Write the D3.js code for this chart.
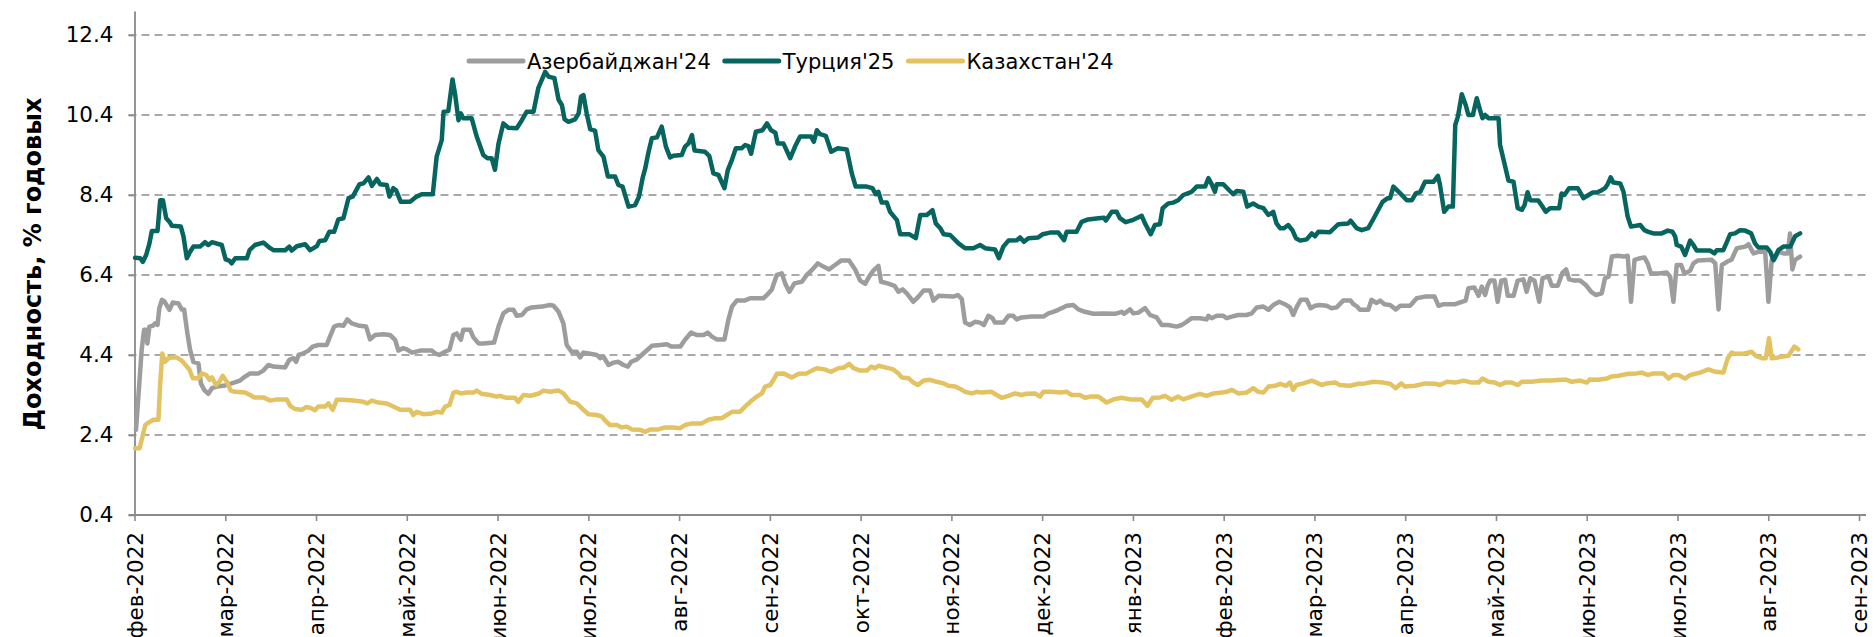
<!DOCTYPE html>
<html>
<head>
<meta charset="utf-8">
<script src="https://cdn.jsdelivr.net/npm/d3@7"></script>
<style>
  body { margin: 0; background: #fff; }
  text { font-family: "DejaVu Sans", Verdana, sans-serif; fill: #000; }
</style>
</head>
<body>
<div id="chart"></div>
<script>
// Доходность еврооблигаций, % годовых.
// Точки серий: [дней от 1 фев 2022, доходность]
const startDate = Date.UTC(2022, 1, 1);
const lastTickDate = Date.UTC(2023, 8, 1);
const endDate = Date.UTC(2023, 8, 3);
const xTickLabels = [
  "фев-2022", "мар-2022", "апр-2022", "май-2022", "июн-2022", "июл-2022", "авг-2022", "сен-2022", "окт-2022", "ноя-2022",
  "дек-2022", "янв-2023", "фев-2023", "мар-2023", "апр-2023", "май-2023", "июн-2023", "июл-2023", "авг-2023", "сен-2023"
];
const yTicks = [0.4, 2.4, 4.4, 6.4, 8.4, 10.4, 12.4];
const yMin = 0.4;
const yMax = 13;
const seriesNames = ["Азербайджан'24", "Турция'25", "Казахстан'24"];

const azerbaijan24 = [
  [0.5,2.53],[1.3,3.36],[2.4,4.53],[3.2,5.03],[3.9,5.03],[4.3,4.69],[5.0,5.11],[6.1,5.13],[6.9,5.19],[7.7,5.15],
  [8.3,5.57],[9.2,5.78],[10.0,5.74],[11.7,5.53],[12.8,5.71],[14.7,5.69],[15.8,5.54],[16.6,5.54],[17.7,4.94],[18.6,4.53],
  [19.7,4.23],[21.4,4.19],[22.2,3.69],[23.3,3.53],[24.7,3.43],[25.9,3.57],[27.5,3.61],[29.8,3.63],[32.5,3.69],[35.3,3.76],
  [37.0,3.86],[38.7,3.94],[41.5,3.94],[43.1,4.01],[44.8,4.15],[46.5,4.11],[50.4,4.09],[51.8,4.28],[53.2,4.32],[54.1,4.23],
  [54.9,4.4],[56.5,4.44],[58.2,4.51],[59.6,4.61],[61.5,4.65],[64.3,4.65],[65.4,4.86],[66.8,5.11],[68.2,5.15],[69.9,5.13],
  [71.2,5.29],[72.7,5.19],[75.3,5.13],[77.5,5.11],[78.8,4.79],[80.5,4.9],[83.3,4.92],[85.5,4.9],[87.2,4.78],[88.3,4.51],
  [89.8,4.57],[91.1,4.54],[92.8,4.46],[95.6,4.51],[99.5,4.51],[100.6,4.44],[102.0,4.4],[103.9,4.48],[105.4,4.53],[106.7,4.9],
  [107.8,4.94],[109.2,4.78],[110.0,5.03],[112.3,5.03],[113.4,4.84],[115.1,4.69],[116.7,4.69],[120.3,4.71],[121.8,5.11],[123.4,5.44],
  [125.1,5.53],[126.8,5.53],[127.9,5.38],[129.6,5.4],[131.2,5.54],[132.9,5.59],[136.3,5.61],[139.0,5.65],[140.2,5.63],[141.9,5.48],
  [143.5,5.19],[144.6,4.65],[146.3,4.48],[148.0,4.48],[149.1,4.34],[150.2,4.46],[152.5,4.43],[154.7,4.4],[155.8,4.32],[156.9,4.36],
  [158.6,4.15],[160.3,4.21],[161.9,4.23],[163.6,4.15],[165.1,4.11],[166.2,4.23],[168.1,4.29],[169.7,4.4],[170.9,4.48],[173.1,4.63],
  [175.9,4.65],[178.1,4.67],[179.6,4.61],[182.6,4.61],[184.2,4.78],[186.2,4.96],[188.1,4.9],[190.4,4.9],[191.8,4.96],[193.2,4.86],
  [194.8,4.79],[197.4,4.79],[198.7,5.28],[199.9,5.61],[201.5,5.76],[204.1,5.76],[206.0,5.82],[210.4,5.82],[211.6,5.9],[213.2,6.03],
  [214.9,6.4],[216.6,6.44],[217.7,6.19],[219.1,5.98],[220.8,6.19],[223.3,6.23],[224.9,6.4],[226.1,6.48],[227.7,6.61],[228.6,6.69],
  [230.5,6.61],[232.4,6.54],[234.4,6.65],[236.4,6.76],[239.1,6.76],[241.1,6.54],[242.8,6.26],[244.5,6.18],[245.8,6.36],[247.2,6.51],
  [248.9,6.63],[249.8,6.23],[252.0,6.19],[254.3,6.13],[255.6,5.98],[257.0,6.04],[258.4,5.94],[260.6,5.73],[262.3,5.86],[264.0,6.01],
  [266.2,6.01],[267.3,5.76],[269.0,5.88],[274.0,5.86],[275.5,5.9],[276.8,5.8],[277.9,5.21],[279.5,5.15],[281.2,5.23],[282.9,5.21],
  [284.2,5.15],[285.7,5.38],[287.1,5.32],[287.9,5.21],[290.7,5.21],[292.4,5.38],[294.0,5.38],[295.2,5.29],[296.8,5.34],[300.2,5.36],
  [304.1,5.36],[305.8,5.44],[307.4,5.48],[309.1,5.53],[310.2,5.57],[311.9,5.63],[314.1,5.65],[315.8,5.54],[318.0,5.48],[320.8,5.43],
  [324.2,5.44],[328.1,5.43],[330.3,5.48],[331.1,5.43],[333.1,5.54],[334.2,5.44],[335.9,5.46],[338.1,5.57],[339.8,5.4],[342.0,5.34],
  [343.7,5.15],[345.9,5.15],[348.7,5.11],[350.4,5.15],[352.0,5.23],[353.7,5.32],[356.5,5.32],[358.7,5.29],[359.3,5.38],[360.4,5.32],
  [362.1,5.38],[364.3,5.38],[365.4,5.32],[367.1,5.36],[369.3,5.4],[372.1,5.4],[373.8,5.44],[375.5,5.59],[377.7,5.61],[379.4,5.53],
  [381.0,5.65],[383.0,5.73],[384.9,5.67],[386.6,5.59],[387.7,5.4],[388.8,5.59],[390.2,5.78],[392.2,5.78],[393.5,5.57],[395.0,5.63],
  [396.6,5.65],[398.9,5.63],[400.5,5.57],[402.2,5.59],[404.4,5.76],[406.9,5.76],[407.8,5.67],[409.1,5.61],[410.0,5.53],[412.8,5.53],
  [413.9,5.78],[415.6,5.7],[416.8,5.76],[418.2,5.67],[420.1,5.65],[422.0,5.54],[423.5,5.63],[426.8,5.63],[429.0,5.82],[431.8,5.86],
  [435.0,5.86],[436.3,5.63],[438.0,5.67],[441.9,5.67],[444.1,5.73],[445.4,5.76],[446.3,6.07],[448.3,6.09],[449.7,5.88],[450.8,6.11],
  [451.9,5.9],[452.8,6.15],[453.6,6.26],[455.0,6.26],[456.1,5.73],[457.3,6.26],[458.6,6.28],[459.5,5.88],[461.4,5.88],[462.8,6.26],
  [464.7,6.29],[465.8,5.98],[467.0,6.32],[468.4,6.26],[470.0,5.73],[471.1,6.32],[473.1,6.36],[474.2,6.13],[476.2,6.13],[477.8,6.46],
  [479.0,6.54],[480.0,6.29],[481.8,6.26],[483.7,6.26],[485.6,6.15],[487.4,5.98],[488.9,5.9],[490.9,5.94],[492.0,6.32],[493.2,6.36],
  [494.3,6.86],[496.3,6.88],[498.2,6.86],[499.6,6.88],[500.7,5.73],[501.9,6.78],[503.8,6.82],[505.2,6.84],[506.3,6.69],[507.4,6.44],
  [509.9,6.44],[512.7,6.46],[513.8,6.36],[514.9,5.73],[516.0,6.65],[517.5,6.65],[518.6,6.43],[520.5,6.51],[521.6,6.69],[523.0,6.76],
  [527.7,6.78],[528.9,6.69],[530.0,5.54],[531.1,6.65],[532.8,6.73],[534.4,6.79],[536.1,7.07],[538.9,7.11],[540.0,7.17],[541.7,6.94],
  [543.3,6.98],[545.6,6.98],[546.7,5.73],[547.8,6.78],[548.9,6.82],[550.0,6.98],[551.7,6.94],[553.2,6.94],[553.9,7.44],[554.7,6.54],
  [555.6,6.78],[557.3,6.86]
];

const turkey25 = [
  [0.2,6.83],[1.9,6.82],[2.8,6.73],[3.9,6.9],[5.0,7.19],[5.8,7.5],[7.7,7.5],[8.6,8.27],[9.5,8.27],[10.6,7.82],
  [11.9,7.71],[12.5,7.63],[15.5,7.61],[16.4,7.36],[17.5,6.82],[18.6,6.98],[19.7,7.11],[21.9,7.11],[23.6,7.22],[24.7,7.15],
  [25.9,7.22],[29.2,7.15],[30.5,6.79],[31.7,6.76],[32.5,6.69],[33.7,6.82],[37.6,6.82],[38.5,7.02],[40.3,7.15],[43.1,7.21],
  [45.4,7.07],[46.5,7.02],[50.4,7.02],[51.8,7.11],[52.6,7.01],[54.3,7.12],[57.1,7.17],[58.8,7.02],[61.0,7.12],[61.9,7.25],
  [63.8,7.27],[65.2,7.48],[66.8,7.48],[68.2,7.79],[69.9,7.82],[71.6,8.32],[73.0,8.36],[75.3,8.67],[76.6,8.69],[78.3,8.84],
  [79.4,8.63],[81.1,8.8],[82.2,8.67],[84.4,8.65],[85.3,8.36],[86.6,8.57],[87.5,8.52],[89.1,8.23],[92.2,8.23],[94.4,8.36],
  [96.1,8.42],[99.8,8.42],[101.1,9.36],[102.8,9.77],[103.4,10.48],[105.0,10.5],[106.4,11.29],[107.3,10.9],[108.4,10.27],[109.2,10.44],
  [110.0,10.32],[112.8,10.32],[114.5,9.86],[116.7,9.4],[118.1,9.32],[119.5,9.32],[120.6,9.03],[121.8,9.69],[123.4,10.19],[125.1,10.08],
  [127.9,10.07],[129.6,10.27],[131.2,10.48],[133.5,10.48],[135.1,11.07],[137.4,11.48],[138.5,11.36],[140.5,11.32],[141.9,10.78],[143.0,10.65],
  [143.9,10.29],[145.2,10.23],[147.4,10.29],[148.6,10.44],[149.4,10.86],[150.2,10.9],[151.3,10.44],[152.5,10.04],[154.1,10.01],[155.2,9.52],
  [156.9,9.36],[158.4,8.86],[160.8,8.86],[161.9,8.65],[163.3,8.61],[165.3,8.11],[167.5,8.15],[168.8,8.36],[170.0,8.82],[170.9,9.07],
  [172.0,9.48],[173.1,9.82],[174.8,9.84],[176.4,10.11],[177.8,9.61],[179.2,9.34],[180.3,9.38],[183.1,9.4],[184.2,9.61],[185.4,9.69],
  [186.5,9.9],[187.4,9.51],[190.9,9.48],[192.3,9.38],[193.7,8.94],[195.4,8.9],[197.4,8.57],[198.5,9.02],[199.9,9.28],[201.2,9.57],
  [203.2,9.57],[204.3,9.65],[205.4,9.62],[206.3,9.43],[207.9,9.98],[210.1,10.02],[211.6,10.19],[213.0,10.02],[214.4,9.96],[215.2,9.69],
  [217.1,9.69],[219.4,9.32],[221.0,9.61],[222.7,9.86],[226.4,9.86],[227.3,9.73],[228.3,10.02],[229.4,9.92],[231.3,9.88],[233.1,9.48],
  [235.3,9.57],[238.3,9.54],[240.0,8.94],[241.3,8.61],[245.0,8.61],[246.9,8.57],[248.0,8.42],[248.9,8.48],[250.0,8.21],[251.7,8.21],
  [252.8,7.98],[255.1,7.77],[256.2,7.42],[259.2,7.42],[261.4,7.32],[262.9,7.9],[265.1,7.9],[267.0,8.02],[268.1,7.69],[269.6,7.57],
  [270.7,7.42],[272.9,7.4],[275.7,7.19],[277.9,7.07],[280.7,7.07],[282.9,7.15],[284.6,7.07],[287.9,7.04],[289.2,6.82],[290.7,7.11],
  [292.4,7.26],[295.2,7.27],[296.3,7.34],[297.6,7.23],[299.1,7.32],[302.4,7.34],[303.9,7.42],[306.3,7.46],[309.1,7.46],[311.0,7.27],
  [311.9,7.48],[315.2,7.48],[316.9,7.73],[319.1,7.79],[322.5,7.82],[324.4,7.83],[325.0,7.76],[327.0,7.98],[328.6,7.98],[329.7,7.82],
  [331.6,7.72],[334.2,7.78],[337.0,7.88],[338.1,7.69],[340.0,7.42],[341.4,7.65],[343.1,7.67],[344.0,8.07],[345.9,8.19],[347.6,8.21],
  [349.2,8.27],[350.9,8.4],[353.7,8.48],[355.4,8.61],[358.2,8.61],[359.3,8.82],[360.4,8.67],[361.5,8.48],[362.1,8.67],[364.3,8.67],
  [366.5,8.5],[367.6,8.42],[368.8,8.5],[371.0,8.48],[372.3,8.11],[374.3,8.19],[376.0,8.11],[377.7,8.07],[379.4,7.9],[381.0,7.98],
  [382.1,7.69],[383.3,7.57],[384.6,7.57],[386.0,7.65],[387.4,7.52],[388.6,7.32],[390.0,7.26],[392.2,7.29],[393.9,7.44],[395.0,7.37],
  [396.1,7.48],[400.0,7.47],[401.1,7.55],[402.8,7.67],[406.1,7.69],[406.9,7.76],[408.9,7.57],[410.6,7.52],[412.8,7.57],[414.5,7.8],
  [417.6,8.23],[419.3,8.32],[420.1,8.32],[421.2,8.61],[423.5,8.44],[425.7,8.27],[427.4,8.27],[428.7,8.44],[430.2,8.48],[431.8,8.73],
  [434.6,8.73],[436.1,8.88],[436.8,8.65],[438.2,7.98],[439.6,8.11],[441.1,8.11],[441.9,10.15],[442.8,10.36],[444.1,10.92],[445.4,10.65],
  [446.3,10.4],[447.8,10.4],[449.1,10.82],[450.2,10.52],[451.0,10.32],[451.9,10.4],[453.0,10.32],[456.4,10.32],[456.9,9.65],[458.6,9.11],
  [459.7,8.76],[461.4,8.73],[462.8,8.07],[464.2,8.03],[465.1,8.15],[466.1,8.47],[467.0,8.27],[469.7,8.26],[470.9,8.13],[472.2,7.98],
  [473.6,8.07],[476.7,8.07],[477.5,8.44],[478.4,8.4],[480.0,8.57],[482.9,8.57],[484.8,8.32],[486.5,8.4],[487.8,8.46],[489.3,8.46],
  [490.9,8.52],[492.0,8.57],[492.9,8.67],[493.9,8.84],[494.8,8.71],[497.1,8.69],[498.2,8.48],[499.6,7.86],[500.7,7.61],[503.8,7.65],
  [505.2,7.52],[506.5,7.48],[508.2,7.44],[511.0,7.44],[513.0,7.51],[514.6,7.48],[515.5,7.36],[516.0,7.15],[517.5,7.11],[518.8,6.9],
  [520.5,7.26],[521.6,7.15],[522.7,7.01],[527.2,7.01],[528.6,6.94],[529.4,7.02],[531.6,7.02],[532.8,7.23],[533.9,7.42],[535.5,7.44],
  [537.2,7.52],[538.9,7.51],[540.9,7.44],[542.2,7.19],[543.3,7.09],[546.1,7.09],[547.3,6.98],[548.4,6.77],[550.0,7.02],[551.7,7.11],
  [554.0,7.11],[555.6,7.37],[557.3,7.44]
];

const kazakhstan24 = [
  [0.2,2.07],[1.7,2.07],[2.8,2.4],[3.6,2.65],[4.7,2.71],[6.3,2.78],[8.0,2.78],[8.6,3.69],[9.3,4.44],[10.2,4.23],
  [11.4,4.32],[12.5,4.34],[14.1,4.34],[15.8,4.26],[17.3,4.13],[18.4,4.03],[19.5,3.82],[21.4,3.82],[22.5,3.94],[24.0,3.9],
  [25.1,3.78],[25.9,3.84],[27.3,3.65],[28.4,3.73],[29.5,3.88],[30.9,3.73],[32.2,3.51],[33.7,3.48],[37.0,3.46],[38.7,3.4],
  [40.0,3.34],[43.1,3.34],[45.4,3.26],[47.6,3.29],[50.9,3.29],[52.1,3.13],[53.7,3.05],[56.0,3.03],[57.4,3.1],[58.8,3.08],
  [60.4,3.02],[61.5,3.11],[63.8,3.11],[64.9,3.19],[66.3,3.03],[67.7,3.28],[69.9,3.28],[73.2,3.26],[76.6,3.23],[77.9,3.19],
  [79.4,3.26],[81.6,3.21],[84.4,3.19],[86.6,3.11],[88.9,3.03],[92.2,3.03],[93.3,2.9],[94.4,2.98],[96.7,2.92],[99.5,2.94],
  [101.1,2.98],[102.8,2.96],[103.9,3.11],[105.4,3.15],[106.7,3.46],[107.8,3.48],[109.2,3.44],[111.2,3.46],[113.4,3.46],[114.5,3.51],
  [116.2,3.43],[119.0,3.4],[121.2,3.36],[122.3,3.38],[124.5,3.33],[127.3,3.33],[128.4,3.23],[130.1,3.4],[132.4,3.38],[135.1,3.43],
  [136.8,3.51],[139.0,3.48],[141.9,3.51],[143.5,3.44],[145.8,3.23],[148.0,3.19],[150.2,3.03],[151.9,2.92],[154.7,2.9],[156.4,2.86],
  [157.5,2.76],[159.1,2.65],[161.4,2.65],[163.0,2.59],[164.7,2.61],[166.4,2.54],[169.2,2.53],[170.9,2.48],[172.5,2.54],[175.3,2.54],
  [177.5,2.59],[180.3,2.59],[182.6,2.57],[184.2,2.65],[186.5,2.69],[189.8,2.69],[192.0,2.78],[194.3,2.82],[196.5,2.82],[198.2,2.9],
  [199.9,2.98],[202.6,2.98],[204.3,3.11],[206.0,3.23],[208.2,3.36],[209.9,3.44],[211.0,3.61],[212.7,3.65],[213.8,3.78],[214.9,3.93],
  [217.1,3.94],[219.9,3.84],[222.2,3.93],[224.9,3.94],[226.6,4.01],[228.3,4.07],[230.9,4.04],[233.1,3.98],[235.5,4.07],[237.5,4.09],
  [239.1,4.18],[240.6,4.07],[242.8,4.01],[245.0,4.01],[246.5,4.11],[247.8,4.07],[248.9,4.13],[251.2,4.09],[253.9,4.04],[255.6,3.94],
  [256.7,3.84],[259.0,3.82],[260.6,3.71],[262.1,3.65],[264.0,3.76],[266.2,3.78],[268.4,3.73],[270.7,3.69],[272.3,3.63],[274.6,3.61],
  [276.8,3.53],[277.9,3.48],[280.1,3.44],[281.8,3.48],[283.4,3.46],[286.8,3.48],[288.5,3.4],[290.1,3.33],[292.4,3.38],[294.6,3.44],
  [296.8,3.4],[298.5,3.43],[301.3,3.44],[303.0,3.36],[304.1,3.48],[306.9,3.48],[309.7,3.46],[311.9,3.48],[313.6,3.4],[316.3,3.4],
  [318.0,3.33],[319.7,3.36],[322.5,3.36],[325.3,3.21],[327.5,3.29],[330.3,3.33],[333.1,3.29],[337.0,3.29],[338.9,3.13],[340.7,3.33],
  [343.1,3.34],[344.8,3.38],[347.0,3.28],[349.2,3.36],[350.9,3.29],[354.3,3.38],[356.5,3.43],[358.7,3.38],[361.0,3.44],[363.7,3.46],
  [365.4,3.48],[367.1,3.53],[369.3,3.44],[372.1,3.46],[374.3,3.57],[376.0,3.48],[377.7,3.46],[379.4,3.61],[381.6,3.63],[383.3,3.68],
  [385.3,3.63],[386.6,3.71],[387.7,3.53],[388.8,3.65],[391.1,3.69],[393.9,3.76],[395.5,3.71],[397.2,3.65],[398.9,3.69],[401.7,3.71],
  [403.3,3.65],[406.7,3.63],[409.5,3.68],[411.7,3.69],[414.5,3.73],[417.9,3.71],[420.1,3.68],[422.0,3.57],[423.8,3.69],[425.1,3.61],
  [428.5,3.63],[431.8,3.69],[435.2,3.68],[436.8,3.65],[439.1,3.73],[441.9,3.71],[444.7,3.76],[447.4,3.71],[449.7,3.71],[451.0,3.81],
  [453.0,3.73],[455.2,3.71],[456.9,3.65],[458.6,3.71],[460.8,3.71],[462.8,3.65],[464.2,3.73],[467.5,3.73],[470.9,3.76],[474.2,3.76],
  [477.5,3.78],[479.2,3.78],[480.9,3.73],[483.7,3.76],[485.9,3.71],[487.0,3.79],[489.8,3.78],[492.6,3.81],[494.1,3.86],[496.5,3.88],
  [499.9,3.93],[502.6,3.94],[504.3,3.96],[506.3,3.9],[508.2,3.94],[511.6,3.94],[513.2,3.81],[514.9,3.9],[516.6,3.9],[518.8,3.81],
  [520.5,3.9],[522.2,3.93],[523.8,3.96],[526.6,4.04],[528.9,3.98],[531.6,3.96],[533.1,4.32],[534.4,4.46],[535.5,4.43],[538.3,4.43],
  [541.1,4.48],[542.5,4.38],[544.5,4.32],[545.8,4.32],[546.9,4.82],[547.8,4.32],[550.0,4.34],[553.4,4.38],[555.4,4.61],[556.7,4.54]
];

const seriesColors = ["#9d9d9d", "#07655f", "#e3c262"];

function renderChart(selector) {
  const width = 1876;
  const height = 637;
  const plot = { left: 134.5, right: 1865, top: 11, bottom: 515 };

  const svg = d3
    .select(selector)
    .append("svg")
    .attr("width", width)
    .attr("height", height)
    .attr("viewBox", [0, 0, width, height])
    .style("background", "#fff");

  const x = d3.scaleUtc().domain([startDate, endDate]).range([plot.left, plot.right]);
  const y = d3.scaleLinear().domain([yMin, yMax]).range([plot.bottom, plot.top]);
  const dayToDate = (d) => new Date(startDate + d * 864e5);

  // month labels sit at evenly spaced category ticks
  const xCat = d3.scalePoint().domain(xTickLabels).range([x(startDate), x(lastTickDate)]);

  // dashed horizontal gridlines
  svg
    .append("g")
    .selectAll("line")
    .data(yTicks.filter((t) => t !== yMin))
    .join("line")
    .attr("x1", plot.left - 6)
    .attr("x2", plot.right + 1)
    .attr("y1", (d) => y(d))
    .attr("y2", (d) => y(d))
    .attr("stroke", "#8f8f8f")
    .attr("stroke-width", 1.6)
    .attr("stroke-dasharray", "8,5");

  // y axis
  const yAxis = svg
    .append("g")
    .attr("transform", `translate(${plot.left},0)`)
    .call(d3.axisLeft(y).tickValues(yTicks).tickSize(6).tickSizeOuter(0).tickPadding(15).tickFormat(d3.format(".1f")));
  yAxis.select(".domain").attr("stroke", "#8a8a8a").attr("stroke-width", 1.8);
  yAxis.selectAll(".tick line").attr("stroke", "#8a8a8a").attr("stroke-width", 1.6);
  yAxis.selectAll(".tick text").attr("font-size", 21.5).attr("fill", "#000");

  // x axis
  const xAxis = svg
    .append("g")
    .attr("transform", `translate(0,${plot.bottom})`)
    .call(d3.axisBottom(xCat).tickSize(6).tickSizeOuter(0));
  xAxis.select(".domain").attr("stroke", "#8a8a8a").attr("stroke-width", 1.8).attr("d", `M${plot.left - 6},0H${plot.right + 1}`);
  xAxis.selectAll(".tick line").attr("stroke", "#8a8a8a").attr("stroke-width", 1.6);
  xAxis
    .selectAll(".tick text")
    .attr("font-size", 21.5)
    .attr("fill", "#000")
    .attr("transform", "rotate(-90)")
    .attr("text-anchor", "end")
    .attr("x", -17)
    .attr("y", 0)
    .attr("dy", "0.35em");

  // y axis title
  svg
    .append("text")
    .attr("transform", "translate(41,264) rotate(-90)")
    .attr("text-anchor", "middle")
    .attr("font-size", 24)
    .attr("font-weight", "bold")
    .text("Доходность, % годовых");

  // series lines
  const line = d3
    .line()
    .x((d) => x(dayToDate(d[0])))
    .y((d) => y(d[1]));

  const series = [azerbaijan24, turkey25, kazakhstan24];
  svg
    .append("g")
    .selectAll("path")
    .data(series)
    .join("path")
    .attr("d", line)
    .attr("fill", "none")
    .attr("stroke", (d, i) => seriesColors[i])
    .attr("stroke-width", 4.5)
    .attr("stroke-linejoin", "round")
    .attr("stroke-linecap", "round");

  // legend
  const legend = svg.append("g").attr("transform", "translate(0,61)");
  let cx = 469;
  seriesNames.forEach((name, i) => {
    legend
      .append("line")
      .attr("x1", cx)
      .attr("x2", cx + 54)
      .attr("stroke", seriesColors[i])
      .attr("stroke-width", 5)
      .attr("stroke-linecap", "round");
    const t = legend
      .append("text")
      .attr("x", cx + 58)
      .attr("dy", "0.36em")
      .attr("font-size", 21)
      .text(name);
    cx += 58 + t.node().getComputedTextLength() + 14;
  });
}

renderChart("#chart");
</script>
</body>
</html>
